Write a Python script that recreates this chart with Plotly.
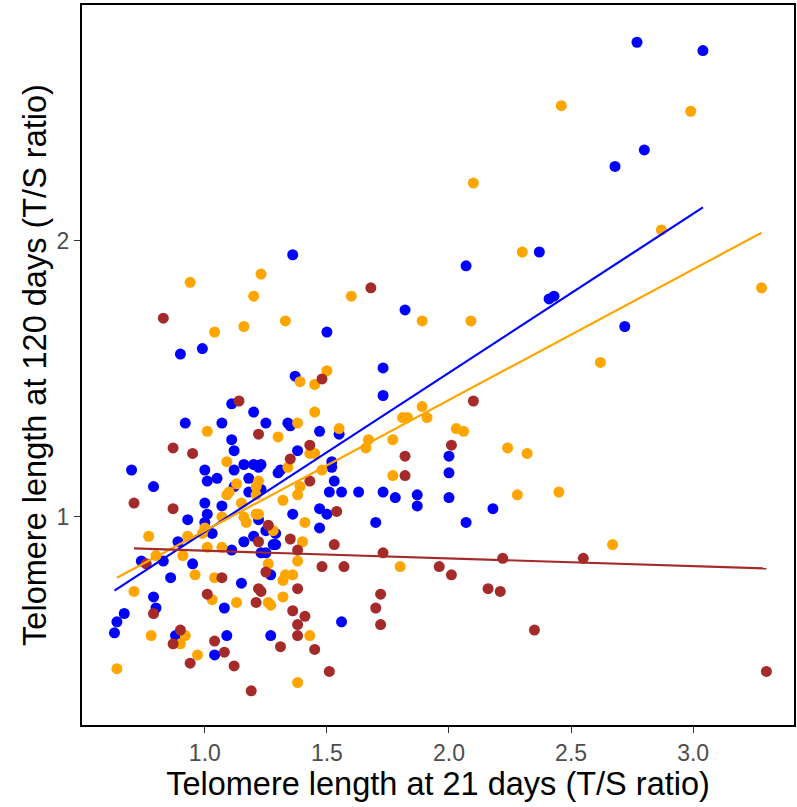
import numpy as np
import plotly.graph_objects as go

blue_x = [2.77, 3.04, 2.80, 2.68, 2.37, 2.43, 2.41, 2.72, 2.07, 1.82, 1.36, 1.50, 0.99, 0.90, 1.37, 1.73,
          1.73, 1.11, 1.20, 0.92, 1.07, 1.25, 1.11, 1.12, 0.70, 0.79, 1.00, 1.01, 1.05, 1.12, 1.16, 1.20,
          1.23, 1.18, 1.18, 1.12, 1.30, 1.00, 1.07, 1.01, 0.93, 1.00, 1.16, 0.89, 1.22, 1.25, 1.20, 1.29,
          1.03, 1.11, 1.23, 1.25, 0.95, 0.86, 0.74, 0.83, 1.15, 0.79, 0.80, 0.67, 0.64, 0.63, 0.88, 1.09,
          1.04, 1.08, 1.27, 1.27, 1.56, 1.34, 1.35, 1.47, 1.55, 1.38, 1.31, 1.52, 1.52, 1.53, 1.51, 1.56,
          1.63, 1.73, 1.78, 1.22, 1.23, 1.36, 1.47, 1.50, 1.47, 1.70, 1.29, 1.28, 1.87, 1.87, 2.00, 2.00,
          2.00, 2.18, 2.07]
blue_y = [2.72, 2.69, 2.33, 2.27, 1.96, 1.80, 1.79, 1.69, 1.91, 1.75, 1.95, 1.67, 1.61, 1.59, 1.51, 1.54,
          1.44, 1.41, 1.38, 1.34, 1.34, 1.34, 1.28, 1.24, 1.17, 1.11, 1.17, 1.13, 1.14, 1.17, 1.19, 1.19,
          1.19, 1.14, 1.09, 1.11, 1.16, 1.05, 1.04, 1.01, 0.99, 0.98, 0.91, 0.91, 0.99, 0.95, 0.93, 0.90,
          0.94, 0.88, 0.87, 0.87, 0.83, 0.78, 0.84, 0.84, 0.76, 0.71, 0.67, 0.65, 0.62, 0.58, 0.57, 0.57,
          0.50, 0.67, 0.79, 0.57, 0.62, 1.34, 1.33, 1.31, 1.30, 1.24, 1.17, 1.20, 1.18, 1.13, 1.09, 1.09,
          1.09, 1.09, 1.07, 1.18, 1.10, 1.01, 1.03, 1.01, 0.96, 0.98, 0.94, 0.90, 1.08, 1.04, 1.22, 1.16,
          1.07, 1.03, 0.98]

orange_x = [2.46, 2.99, 2.10, 2.87, 2.30, 3.28, 1.60, 2.09, 1.89, 2.62, 0.94, 1.20, 1.23, 1.04, 1.16, 1.33,
            1.50, 1.39, 1.45, 1.45, 1.38, 1.30, 1.55, 1.81, 1.67, 1.77, 1.66, 1.45, 1.43, 1.34, 1.48, 1.39,
            1.38, 1.32, 1.77, 1.22, 1.22, 1.41, 1.28, 1.40, 1.38, 1.26, 1.33, 1.36, 1.32, 1.32, 1.27, 1.43,
            1.38, 1.80, 1.01, 1.09, 1.13, 1.10, 1.15, 1.07, 1.00, 0.77, 0.93, 1.16, 1.17, 1.21, 1.21, 1.09,
            1.21, 0.99, 1.01, 1.07, 0.91, 0.80, 0.96, 1.04, 0.71, 1.03, 1.13, 1.26, 0.78, 0.92, 0.90, 0.97,
            0.64, 1.89, 1.91, 1.83, 2.03, 2.06, 2.24, 2.32, 2.28, 2.45, 2.67]
orange_y = [2.49, 2.47, 2.21, 2.04, 1.96, 1.83, 1.80, 1.71, 1.71, 1.56, 1.85, 1.80, 1.88, 1.67, 1.69, 1.71,
            1.53, 1.49, 1.48, 1.38, 1.34, 1.29, 1.32, 1.36, 1.28, 1.28, 1.25, 1.23, 1.23, 1.18, 1.17, 1.11,
            1.08, 1.06, 1.15, 1.13, 1.01, 0.98, 0.95, 0.91, 0.84, 0.83, 0.79, 0.79, 0.77, 0.71, 0.68, 0.57,
            0.40, 0.82, 1.31, 1.20, 1.12, 1.09, 1.05, 1.00, 0.96, 0.93, 0.93, 1.00, 0.98, 1.11, 1.08, 1.08,
            1.01, 0.94, 0.89, 0.89, 0.86, 0.86, 0.79, 0.78, 0.73, 0.70, 0.69, 0.69, 0.57, 0.57, 0.54, 0.50,
            0.45, 1.40, 1.36, 1.36, 1.32, 1.31, 1.25, 1.23, 1.08, 1.09, 0.90]

brown_x = [0.83, 1.68, 1.14, 0.87, 0.95, 0.71, 0.87, 1.22, 1.43, 1.35, 1.43, 1.48, 2.10, 2.01, 1.82, 1.82,
           1.54, 1.26, 1.35, 1.22, 1.53, 1.38, 1.73, 1.48, 1.57, 1.25, 1.38, 1.22, 1.23, 1.21, 1.72, 1.70,
           1.36, 1.41, 1.38, 1.72, 1.38, 1.31, 1.45, 1.51, 1.19, 1.12, 0.94, 1.08, 1.04, 0.87, 0.90, 1.01,
           1.07, 0.79, 0.76, 2.22, 1.96, 2.01, 2.16, 2.21, 2.35, 2.55, 3.30]
brown_y = [1.72, 1.83, 1.42, 1.25, 1.23, 1.05, 1.03, 1.30, 1.26, 1.21, 1.13, 1.50, 1.42, 1.26, 1.22, 1.15,
           1.02, 0.97, 0.92, 0.91, 0.90, 0.88, 0.87, 0.82, 0.82, 0.80, 0.74, 0.74, 0.73, 0.69, 0.72, 0.67,
           0.66, 0.64, 0.61, 0.61, 0.57, 0.53, 0.52, 0.44, 0.37, 0.46, 0.47, 0.51, 0.55, 0.54, 0.59, 0.72,
           0.78, 0.65, 0.83, 0.85, 0.82, 0.79, 0.74, 0.73, 0.59, 0.85, 0.44]

x_ticks = [1.0, 1.5, 2.0, 2.5, 3.0]
x_tick_labels = ["1.0", "1.5", "2.0", "2.5", "3.0"]
y_ticks = [1, 2]
y_tick_labels = ["1", "2"]

groups = [
    (blue_x, blue_y, "#0000FF"),
    (orange_x, orange_y, "#FFA500"),
    (brown_x, brown_y, "#A52A2A"),
]

FONT = "Liberation Sans, Arial, sans-serif"

fig = go.Figure()
for gx, gy, col in groups:
    fig.add_trace(go.Scatter(x=gx, y=gy, mode="markers",
                             marker=dict(color=col, size=11, line=dict(width=0)),
                             showlegend=False, hoverinfo="skip"))
for gx, gy, col in groups:
    xa = np.array(gx)
    ya = np.array(gy)
    slope, intercept = np.polyfit(xa, ya, 1)
    xs = np.array([xa.min(), xa.max()])
    fig.add_trace(go.Scatter(x=xs, y=slope * xs + intercept, mode="lines",
                             line=dict(color=col, width=2.2),
                             showlegend=False, hoverinfo="skip"))

axis_common = dict(showgrid=False, zeroline=False, showline=True, linecolor="black", linewidth=2,
                   mirror=True, ticks="outside", ticklen=6, tickwidth=1.2, tickcolor="#333333",
                   tickfont=dict(family=FONT, size=23, color="#4D4D4D"))

fig.update_layout(
    width=797, height=807,
    margin=dict(l=82, r=1, t=5, b=82),
    plot_bgcolor="white", paper_bgcolor="white",
    xaxis=dict(range=[0.497, 3.413], tickvals=x_ticks, ticktext=x_tick_labels,
               title=dict(text="Telomere length at 21 days (T/S ratio)", standoff=6,
                          font=dict(family=FONT, size=32.5, color="black")),
               **axis_common),
    yaxis=dict(range=[0.246, 2.855], tickvals=y_ticks, ticktext=y_tick_labels,
               title=dict(text="Telomere length at 120 days (T/S ratio)", standoff=0,
                          font=dict(family=FONT, size=32.5, color="black")),
               **axis_common),
)

fig.write_html("out.html", config={"displayModeBar": False},
               post_script="document.body.style.margin='0';")
